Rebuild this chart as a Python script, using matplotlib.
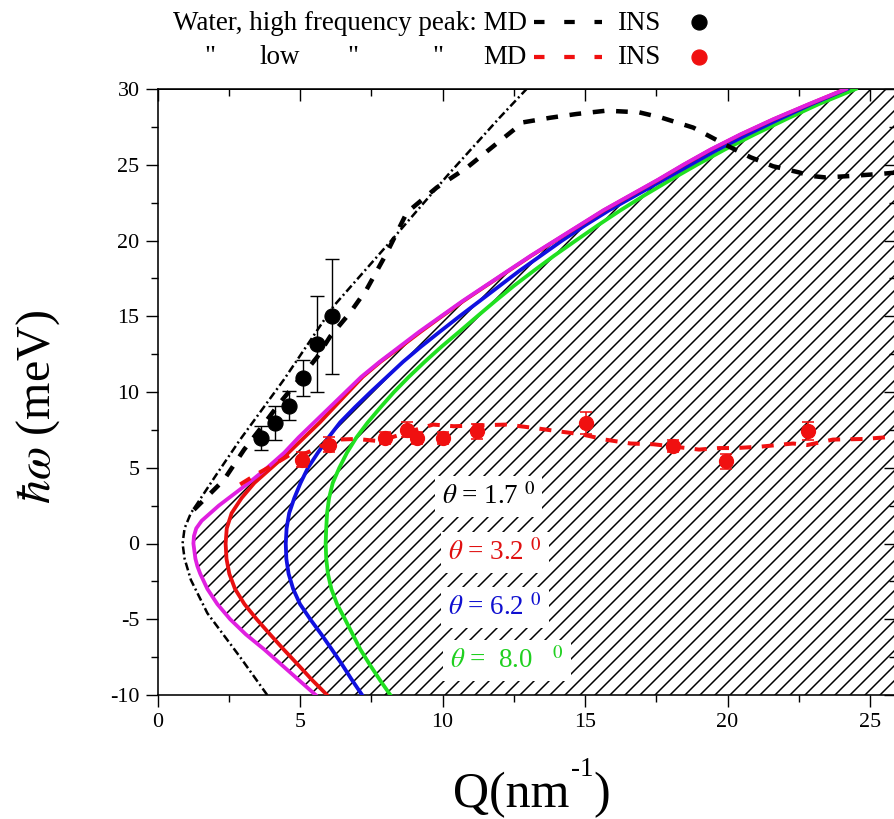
import numpy as np
import matplotlib
matplotlib.use('Agg')
import matplotlib.pyplot as plt
from matplotlib.lines import Line2D
from matplotlib.ticker import MultipleLocator

DPI = 90
def pt(px):
    return px * 72.0 / DPI

plt.rcParams['font.family'] = ['Liberation Serif', 'DejaVu Serif']
plt.rcParams['mathtext.fontset'] = 'stix'
plt.rcParams['axes.unicode_minus'] = False
plt.rcParams['hatch.linewidth'] = pt(1.5)

# ---------------- data ----------------
# kinematic limit curves: energy transfer (meV) and Q (nm^-1)
dd_w = [-10, -7.5, -4.6, -2.4, -1.0, 0.0, 1.0, 2.0, 4.5, 6.86, 10.83, 15.65, 20.1, 24.35, 28.1, 30]
dd_q = [3.85, 2.9, 1.75, 1.17, 0.95, 0.88, 0.95, 1.17, 2.05, 2.9, 4.44, 6.17, 8.25, 10.2, 12.0, 12.95]

mag_w = [-10, -9, -8, -7, -6, -5, -4, -3, -2, -1.5, -1, 0, 0.5, 1, 1.5, 2, 2.5, 3, 4, 5, 6, 7,
         8, 9, 10, 11, 12, 13, 14, 15, 16, 17, 18, 19, 20, 21, 22, 23, 24, 25, 26, 27, 28, 29, 30]
mag_q = [5.55, 4.95, 4.35, 3.75, 3.1, 2.55, 2.1, 1.75, 1.5, 1.4, 1.33, 1.26, 1.28, 1.36, 1.55,
         1.85, 2.15, 2.5, 3.2, 3.85, 4.45, 4.95, 5.5, 6.05, 6.6, 7.15, 7.8, 8.5, 9.2, 9.95, 10.7,
         11.5, 12.3, 13.1, 13.95, 14.8, 15.65, 16.6, 17.55, 18.45, 19.4, 20.45, 21.6, 22.85, 24.15]

curve_w = [-10, -9, -8, -7, -6, -5, -4, -3, -2, -1, 0, 1, 2, 3, 4, 5, 6, 7, 8, 9, 10,
           11, 12, 13, 14, 15, 16, 17, 18, 19, 20, 21, 22, 23, 24, 25, 26, 27, 28, 29, 30]
red_q = [5.95, 5.42, 4.93, 4.43, 3.95, 3.48, 3.05, 2.72, 2.52, 2.42, 2.39, 2.43, 2.6, 2.95, 3.4,
         4.0, 4.6, 5.15, 5.7, 6.2, 6.7, 7.2, 7.83, 8.55, 9.25, 9.98, 10.73, 11.52, 12.32, 13.12,
         13.97, 14.82, 15.67, 16.62, 17.57, 18.47, 19.42, 20.47, 21.62, 22.87, 24.15]
blue_q = [7.18, 6.82, 6.48, 6.12, 5.75, 5.36, 5.0, 4.76, 4.6, 4.52, 4.5, 4.53, 4.62, 4.8, 5.02,
          5.28, 5.63, 6.0, 6.41, 6.93, 7.48, 8.05, 8.62, 9.25, 9.92, 10.6, 11.3, 12.0, 12.7, 13.45,
          14.2, 15.0, 15.85, 16.8, 17.75, 18.7, 19.65, 20.7, 21.8, 22.95, 24.2]
green_q = [8.17, 7.8, 7.45, 7.12, 6.85, 6.58, 6.3, 6.1, 5.98, 5.92, 5.9, 5.92, 5.95, 6.02, 6.15,
           6.38, 6.65, 6.98, 7.38, 7.83, 8.3, 8.82, 9.38, 9.97, 10.6, 11.22, 11.85, 12.5, 13.2,
           13.92, 14.68, 15.45, 16.25, 17.1, 18.0, 18.93, 19.9, 20.95, 22.05, 23.2, 24.5]

# MD, high frequency peak
md_hi_q = [1.28, 1.8, 2.33, 3.04, 3.7, 4.3, 5.0, 5.6, 6.06, 6.76, 7.34, 8.05, 8.75, 9.8, 10.85,
           11.9, 12.83, 13.77, 14.7, 15.75, 16.9, 17.7, 18.8, 20.0, 20.8, 21.6, 22.5, 22.9, 23.45,
           24.4, 25.4, 26.0]
md_hi_w = [2.23, 3.2, 4.2, 6.2, 7.8, 9.3, 10.9, 12.3, 13.67, 15.24, 16.78, 19.2, 21.85, 23.5, 24.8,
           26.4, 27.8, 28.1, 28.35, 28.57, 28.46, 28.1, 27.45, 26.25, 25.5, 24.9, 24.5, 24.27, 24.16,
           24.27, 24.4, 24.5]

# MD, low frequency peak
md_lo_q = [2.9, 3.5, 4.07, 4.66, 5.14, 5.7, 6.3, 7.0, 7.8, 8.7, 9.67, 10.4, 11.3, 12.25, 13.2, 14.05,
           14.9, 15.7, 16.6, 17.4, 18.1, 19.0, 19.7, 20.3, 21.2, 22.3, 22.8, 23.7, 24.8, 25.9]
md_lo_w = [3.9, 4.6, 5.2, 5.87, 5.9, 6.4, 6.86, 6.9, 6.75, 7.3, 7.85, 7.74, 7.8, 7.85, 7.63, 7.41,
           7.2, 6.86, 6.6, 6.55, 6.4, 6.2, 6.3, 6.3, 6.4, 6.6, 6.5, 6.86, 6.9, 7.06]

# INS, high frequency peak
ins_hi_q = [3.62, 4.11, 4.63, 5.1, 5.59, 6.12]
ins_hi_w = [6.97, 7.96, 9.1, 10.94, 13.19, 15.0]
ins_hi_e = [0.8, 1.1, 0.95, 1.2, 3.16, 3.8]

# INS, low frequency peak
ins_lo_q = [5.07, 6.0, 7.99, 8.75, 9.1, 10.03, 11.2, 15.05, 18.09, 19.95, 22.81]
ins_lo_w = [5.54, 6.53, 6.97, 7.52, 6.97, 6.97, 7.41, 7.96, 6.42, 5.43, 7.41]
ins_lo_e = [0.5, 0.5, 0.4, 0.5, 0.4, 0.4, 0.5, 0.7, 0.4, 0.5, 0.6]

angle_labels = [r"$\theta$ = 1.7 $^{0}$", r"$\theta$ = 3.2 $^{0}$", r"$\theta$ = 6.2 $^{0}$",
                r"$\theta$ =  8.0   $^{0}$"]
angle_colors = ['black', '#e01010', '#1010d0', '#20d020']
angle_pos = [(9.97, 3.1), (10.2, -0.6), (10.2, -4.2), (10.26, -7.7)]

xticks_major = [0, 5, 10, 15, 20, 25]
yticks_major = [-10, -5, 0, 5, 10, 15, 20, 25, 30]

# ---------------- figure ----------------
W, H = 894, 819
fig = plt.figure(figsize=(W / DPI, H / DPI), dpi=DPI)
x0, x1 = 157.5, 896.0
y_top, y_bot = 89.0, 695.0
ax = fig.add_axes([x0 / W, (H - y_bot) / H, (x1 - x0) / W, (y_bot - y_top) / H])
ax.set_xlim(0, (x1 - x0) / 28.5)
ax.set_ylim(-10, 30)

# hatched accessible region
ax.fill_betweenx(mag_w, mag_q, 40, facecolor='none', edgecolor='black', hatch='//',
                 linewidth=0, zorder=1)

ax.plot(dd_q, dd_w, color='black', lw=pt(2.5), dashes=(3.2, 1.3, 0.8, 1.3), zorder=3)
ax.plot(green_q, curve_w, color='#20e020', lw=pt(3.8), zorder=3)
ax.plot(blue_q, curve_w, color='#1010e0', lw=pt(3.8), zorder=3)
ax.plot(red_q, curve_w, color='#e81010', lw=pt(3.8), zorder=3)
ax.plot(mag_q, mag_w, color='#e020e0', lw=pt(3.8), zorder=3)

ax.plot(md_hi_q, md_hi_w, color='black', lw=pt(4.5), dashes=(2.6, 2.6), zorder=4)
ax.plot(md_lo_q, md_lo_w, color='#f01010', lw=pt(4.0), dashes=(3.0, 2.6), zorder=4)

ax.errorbar(ins_hi_q, ins_hi_w, yerr=ins_hi_e, fmt='o', color='black', ms=pt(15),
            capsize=pt(7), elinewidth=pt(1.4), capthick=pt(1.4), zorder=5)
ax.errorbar(ins_lo_q, ins_lo_w, yerr=ins_lo_e, fmt='o', color='#f01010', ms=pt(14),
            capsize=pt(6), elinewidth=pt(1.6), capthick=pt(1.6), zorder=5)

for lab, col, (qx, wy) in zip(angle_labels, angle_colors, angle_pos):
    ax.text(qx, wy, lab, color=col, fontsize=pt(27), ha='left', va='center', zorder=6,
            bbox=dict(facecolor='white', edgecolor='none', pad=pt(7)))

# ticks
ax.set_xticks(xticks_major)
ax.set_yticks(yticks_major)
ax.xaxis.set_minor_locator(MultipleLocator(2.5))
ax.yaxis.set_minor_locator(MultipleLocator(2.5))
ax.tick_params(which='major', direction='out', length=pt(12), width=pt(1.4),
               labelsize=pt(22), colors='black', pad=pt(6))
ax.tick_params(which='minor', direction='out', length=pt(7), width=pt(1.4))
for sp in ax.spines.values():
    sp.set_linewidth(pt(1.6))

sx = ax.secondary_xaxis('top')
sx.set_xticks(xticks_major)
sx.xaxis.set_minor_locator(MultipleLocator(2.5))
sx.tick_params(which='major', direction='in', length=pt(12), width=pt(1.4), labeltop=False)
sx.tick_params(which='minor', direction='in', length=pt(7), width=pt(1.4))
sy = ax.secondary_yaxis('right')
sy.set_yticks(yticks_major)
sy.yaxis.set_minor_locator(MultipleLocator(2.5))
sy.tick_params(which='major', direction='in', length=pt(12), width=pt(1.4), labelright=False)
sy.tick_params(which='minor', direction='in', length=pt(7), width=pt(1.4))

# legend / label helpers (figure coordinates from pixel positions)
def fx(px):
    return px / W
def fy(py):
    return 1 - py / H

# axis labels
fig.text(fx(453), fy(807), "Q(nm", fontsize=pt(50), ha='left', va='baseline')
fig.text(fx(571), fy(776), "-1", fontsize=pt(27), ha='left', va='baseline')
fig.text(fx(593), fy(807), ")", fontsize=pt(50), ha='left', va='baseline')
fig.text(fx(38), fy(407), r"$\hbar\omega$ (meV)", fontsize=pt(48), rotation=90,
         ha='center', va='center')

lfs = pt(27)
fig.text(fx(527), fy(23), "Water, high frequency peak: MD", fontsize=lfs, ha='right', va='center')
fig.text(fx(210), fy(58), '"', fontsize=lfs, ha='center', va='center')
fig.text(fx(280), fy(58), 'low', fontsize=lfs, ha='center', va='center')
fig.text(fx(353), fy(58), '"', fontsize=lfs, ha='center', va='center')
fig.text(fx(438), fy(58), '"', fontsize=lfs, ha='center', va='center')
fig.text(fx(527), fy(58), 'MD', fontsize=lfs, ha='right', va='center')
fig.text(fx(617), fy(23), 'INS', fontsize=lfs, ha='left', va='center')
fig.text(fx(617), fy(58), 'INS', fontsize=lfs, ha='left', va='center')
fig.add_artist(Line2D([fx(534), fx(602)], [fy(22), fy(22)], color='black', lw=pt(4.2),
                      dashes=(2.5, 4.7), transform=fig.transFigure))
fig.add_artist(Line2D([fx(534), fx(602)], [fy(57), fy(57)], color='#f01010', lw=pt(4.2),
                      dashes=(2.5, 4.7), transform=fig.transFigure))
fig.add_artist(Line2D([fx(699)], [fy(22)], marker='o', color='black', ms=pt(15), lw=0,
                      transform=fig.transFigure))
fig.add_artist(Line2D([fx(699)], [fy(57)], marker='o', color='#f01010', ms=pt(15), lw=0,
                      transform=fig.transFigure))

fig.savefig('out.png', dpi=DPI)
